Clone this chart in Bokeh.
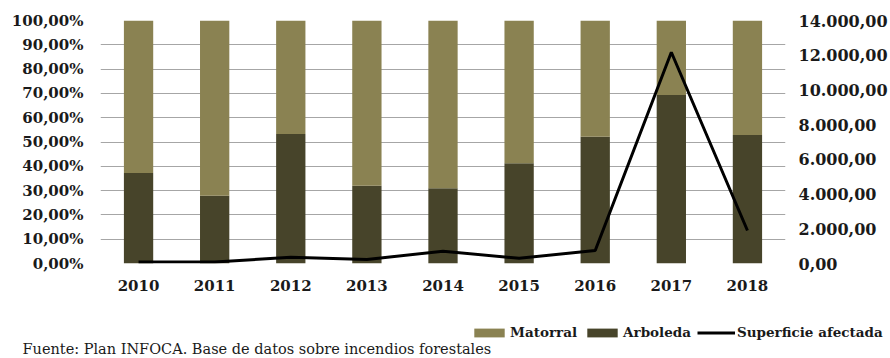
from bokeh.plotting import figure
from bokeh.layouts import column
from bokeh.models import (Range1d, LinearAxis, FixedTicker, Legend, LegendItem, Label, FactorRange)
from bokeh.embed import file_html
from bokeh.resources import INLINE

years = ["2010", "2011", "2012", "2013", "2014", "2015", "2016", "2017", "2018"]
arboleda = [0.372, 0.279, 0.533, 0.320, 0.310, 0.413, 0.522, 0.693, 0.529]
matorral = [1 - a for a in arboleda]
superficie = [80, 80, 360, 230, 710, 300, 750, 12170, 1900]

pct_ticks = [i / 10 for i in range(11)]
pct_labels = ["%d,00%%" % (i * 10) for i in range(11)]
ha_ticks = [i * 2000 for i in range(8)]
ha_labels = ["0,00", "2.000,00", "4.000,00", "6.000,00", "8.000,00",
             "10.000,00", "12.000,00", "14.000,00"]
source_text = "Fuente: Plan INFOCA. Base de datos sobre incendios forestales"

C_MAT = "#8a8252"
C_ARB = "#47442a"
FONT = "DejaVu Serif"
TXT = "#1a1a1a"
NAN = float("nan")

p = figure(width=890, height=300, x_range=FactorRange(*years, range_padding=0),
           y_range=Range1d(0, 1), output_backend="svg", toolbar_location=None,
           min_border_left=100, min_border_right=102, min_border_top=20,
           min_border_bottom=37, frame_align=False)
p.extra_y_ranges = {"ha": Range1d(0, 14000)}
p.outline_line_color = None
p.xgrid.grid_line_color = None
p.ygrid.grid_line_color = "#a6a6a6"
p.ygrid.grid_line_width = 1
p.ygrid.ticker = FixedTicker(ticks=pct_ticks)

src = {"years": years, "Arboleda": arboleda, "Matorral": matorral}
bars = p.vbar_stack(["Arboleda", "Matorral"], x="years", width=0.385,
                    color=[C_ARB, C_MAT], line_color=None, source=src)
ln = p.line(x=years, y=superficie, line_color="black", line_width=3,
            y_range_name="ha")

p.yaxis.ticker = FixedTicker(ticks=pct_ticks)
p.yaxis.major_label_overrides = dict(zip(pct_ticks, pct_labels))

right = LinearAxis(y_range_name="ha", ticker=FixedTicker(ticks=ha_ticks))
right.major_label_overrides = dict(zip(ha_ticks, ha_labels))
p.add_layout(right, "right")

for ax in [p.xaxis[0], p.yaxis[0], right]:
    ax.axis_line_color = None
    ax.major_tick_line_color = None
    ax.minor_tick_line_color = None
    ax.major_tick_out = 0
    ax.major_tick_in = 0
    ax.major_label_text_font = FONT
    ax.major_label_text_font_style = "bold"
    ax.major_label_text_font_size = "15px"
    ax.major_label_text_color = TXT
right.major_label_text_font_size = "16px"

p.xaxis.major_label_standoff = 16
p.yaxis[0].major_label_standoff = 17
right.major_label_standoff = 13

# lower strip: legend and source note
q = figure(width=890, height=58, x_range=Range1d(0, 890), y_range=Range1d(0, 58),
           output_backend="svg", toolbar_location=None, x_axis_type=None,
           y_axis_type=None, min_border=0, frame_align=False)
q.outline_line_color = None
q.grid.grid_line_color = None
k_mat = q.vbar(x=[NAN], top=[NAN], width=1, color=C_MAT, line_color=None)
k_arb = q.vbar(x=[NAN], top=[NAN], width=1, color=C_ARB, line_color=None)
k_ln = q.line(x=[NAN, NAN], y=[NAN, NAN], line_color="black", line_width=3)

legend = Legend(items=[LegendItem(label="Matorral", renderers=[k_mat]),
                       LegendItem(label="Arboleda", renderers=[k_arb]),
                       LegendItem(label="Superficie afectada", renderers=[k_ln])],
                orientation="horizontal", location=(470, 18),
                glyph_width=38, glyph_height=11, label_standoff=2, spacing=6,
                padding=0, margin=0, border_line_color=None,
                background_fill_alpha=0,
                label_text_font=FONT, label_text_font_style="bold",
                label_text_font_size="13.5px", label_text_color=TXT)
q.add_layout(legend, "center")

q.add_layout(Label(x=22, y=2, text=source_text, text_font=FONT,
                   text_font_size="14.5px", text_color=TXT,
                   text_baseline="bottom"))

open("out.html", "w").write(file_html(column(p, q, spacing=0), INLINE))
